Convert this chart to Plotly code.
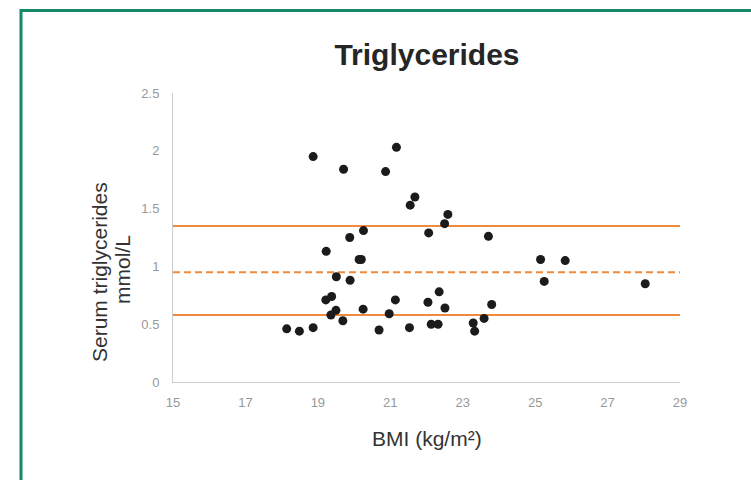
import plotly.graph_objects as go

# ---- data ----
bmi = [18.14, 18.49, 18.87, 18.87, 19.71, 19.23, 19.51, 19.22, 19.38, 19.50,
       19.36, 19.69, 19.88, 19.89, 20.26, 20.14, 20.20, 20.25, 20.69, 20.87,
       21.17, 20.97, 21.14, 21.53, 21.55, 21.68, 22.06, 22.04, 22.13, 22.32,
       22.35, 22.50, 22.59, 22.51, 23.29, 23.33, 23.59, 23.71, 23.80, 25.15,
       25.25, 25.83, 28.04]
trig = [0.46, 0.44, 0.47, 1.95, 1.84, 1.13, 0.91, 0.71, 0.74, 0.62,
        0.58, 0.53, 1.25, 0.88, 1.31, 1.06, 1.06, 0.63, 0.45, 1.82,
        2.03, 0.59, 0.71, 0.47, 1.53, 1.60, 1.29, 0.69, 0.50, 0.50,
        0.78, 1.37, 1.45, 0.64, 0.51, 0.44, 0.55, 1.26, 0.67, 1.06,
        0.87, 1.05, 0.85]
upper_limit = 1.35
mean_value = 0.95
lower_limit = 0.58
x_range = [15, 29]
y_range = [0, 2.5]
x_ticks = [15, 17, 19, 21, 23, 25, 27, 29]
y_ticks = [0, 0.5, 1, 1.5, 2, 2.5]
y_tick_labels = ["0", "0.5", "1", "1.5", "2", "2.5"]

# ---- layout geometry ----
W, H = 751, 480
L, R, T, B = 173, 71, 93, 98
PW, PH = W - L - R, H - T - B


def px_x(px):
    return (px - L) / PW


def px_y(py):
    return (H - B - py) / PH


FONT = "Liberation Sans, Arial, sans-serif"
ORANGE = "#f08a3c"

fig = go.Figure()

fig.add_trace(go.Scatter(x=x_range, y=[upper_limit, upper_limit], mode="lines",
                         line=dict(color=ORANGE, width=2), hoverinfo="skip"))
fig.add_trace(go.Scatter(x=x_range, y=[mean_value, mean_value], mode="lines",
                         line=dict(color=ORANGE, width=2, dash="7px,4px"), hoverinfo="skip"))
fig.add_trace(go.Scatter(x=x_range, y=[lower_limit, lower_limit], mode="lines",
                         line=dict(color=ORANGE, width=2), hoverinfo="skip"))
fig.add_trace(go.Scatter(x=bmi, y=trig, mode="markers",
                         marker=dict(color="#1b1b1b", size=9, line=dict(width=0))))

fig.update_layout(
    width=W, height=H,
    margin=dict(l=L, r=R, t=T, b=B),
    paper_bgcolor="white", plot_bgcolor="white",
    showlegend=False,
    title=dict(text="Triglycerides", x=427 / W, xanchor="center",
               y=1 - 54 / H, yanchor="middle", yref="container",
               font=dict(family=FONT, size=30, color="#262626", weight="bold")),
    xaxis=dict(range=x_range, tickvals=x_ticks, showgrid=False, zeroline=False,
               showline=True, linecolor="#cccccc", linewidth=1,
               ticks="", ticklabelstandoff=8,
               tickfont=dict(family=FONT, size=13, color="#999999")),
    yaxis=dict(range=y_range, tickvals=y_ticks, ticktext=y_tick_labels,
               showgrid=False, zeroline=False,
               showline=True, linecolor="#cccccc", linewidth=1,
               ticks="", ticklabelstandoff=10,
               tickfont=dict(family=FONT, size=13, color="#999999")),
)

# axis titles as annotations
fig.add_annotation(text="Serum triglycerides", textangle=-90, showarrow=False,
                   xref="paper", yref="paper", x=px_x(99), y=px_y(272),
                   xanchor="center", yanchor="middle",
                   font=dict(family=FONT, size=21, color="#333333"))
fig.add_annotation(text="mmol/L", textangle=-90, showarrow=False,
                   xref="paper", yref="paper", x=px_x(122), y=px_y(270),
                   xanchor="center", yanchor="middle",
                   font=dict(family=FONT, size=21, color="#333333"))
fig.add_annotation(text="BMI (kg/m²)", showarrow=False,
                   xref="paper", yref="paper", x=px_x(427), y=px_y(438),
                   xanchor="center", yanchor="middle",
                   font=dict(family=FONT, size=21, color="#333333"))

# green frame
fig.add_shape(type="rect", xref="paper", yref="paper",
              x0=px_x(21), x1=px_x(800), y0=px_y(520), y1=px_y(10.5),
              line=dict(color="#13896a", width=3), fillcolor="rgba(0,0,0,0)",
              layer="above")

fig.write_html("out.html")
